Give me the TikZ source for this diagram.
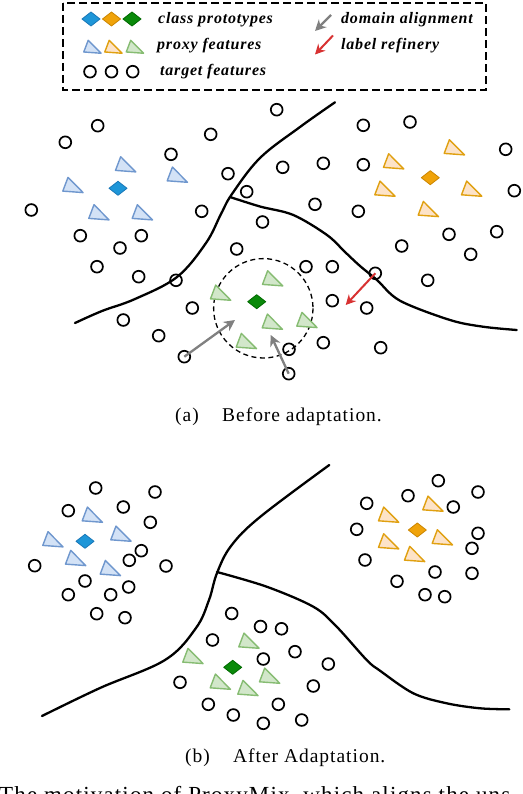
\documentclass[tikz,border=0pt]{standalone}
\usepackage{fontspec}
\setmainfont{Liberation Serif}
\newfontfamily\legfont[LetterSpace=5]{Liberation Serif}
\newfontfamily\capfont[LetterSpace=5]{Liberation Serif}
\usetikzlibrary{arrows.meta}
\definecolor{bdia}{HTML}{1E96D8}
\definecolor{bdiad}{HTML}{1A78B8}
\definecolor{btrif}{HTML}{D3E2F6}
\definecolor{btrid}{HTML}{6F97CE}
\definecolor{odia}{HTML}{F0A30A}
\definecolor{odiad}{HTML}{CC8600}
\definecolor{otrif}{HTML}{FDE3C8}
\definecolor{otrid}{HTML}{E0A010}
\definecolor{gdia}{HTML}{0A8A0A}
\definecolor{gdiad}{HTML}{006A00}
\definecolor{gtrif}{HTML}{D2E7CA}
\definecolor{gtrid}{HTML}{86BC72}
\definecolor{arrowgray}{HTML}{808080}
\definecolor{arrowred}{HTML}{D83232}
\tikzset{
  tri/.pic={\path[pic actions] (-3.3,-9.6) -- (-8.5,4.1) -- (11.8,5.6) -- cycle;},
  dia/.pic={\path[pic actions] (0,-7) -- (9,0) -- (0,7) -- (-9,0) -- cycle;},
  tf/.style={circle, draw=black, line width=1.7pt, minimum size=11.8pt, inner sep=0pt},
  boundary/.style={line width=2.3pt, line cap=round, line join=round},
  btri/.style={draw=btrid, fill=btrif, line width=1.4pt, line join=round},
  otri/.style={draw=otrid, fill=otrif, line width=1.4pt, line join=round},
  gtri/.style={draw=gtrid, fill=gtrif, line width=1.4pt, line join=round},
  bdiam/.style={draw=bdiad, fill=bdia, line width=0.8pt, line join=round},
  odiam/.style={draw=odiad, fill=odia, line width=0.8pt, line join=round},
  gdiam/.style={draw=gdiad, fill=gdia, line width=0.8pt, line join=round},
  grayarrow/.style={draw=arrowgray, line width=2.3pt, -{Stealth[length=11pt,width=11pt]}},
  redarrow/.style={draw=arrowred, line width=2pt, -{Stealth[length=10pt,width=10pt]}},
  legtext/.style={anchor=west, inner sep=0pt, font=\legfont\fontsize{16}{18}\selectfont\bfseries\itshape},
  captext/.style={anchor=base west, inner sep=0pt, font=\capfont\fontsize{19.5}{22}\selectfont},
  figtext/.style={anchor=base west, inner sep=0pt, font=\capfont\fontsize{23}{26}\selectfont},
  legbox/.style={line width=1.8pt, dash pattern=on 8pt off 4pt},
  regionring/.style={line width=1.3pt, dash pattern=on 5pt off 3.5pt}
}
\begin{document}
\begin{tikzpicture}[x=1pt,y=-1pt]
\useasboundingbox (0,0) rectangle (522,794);
\fill[white] (0,0) rectangle (522,794);

% ---------- legend ----------
\draw[legbox] (63,3) rectangle (486,90);
\pic[bdiam] at (91,19) {dia};
\pic[odiam] at (111.5,19) {dia};
\pic[gdiam] at (132,19) {dia};
\pic[btri, scale=0.85] at (91,48.5) {tri};
\pic[otri, scale=0.85] at (112,48.5) {tri};
\pic[gtri, scale=0.85] at (133.5,48.5) {tri};
\node[tf] (l1) at (90,71.7) {};
\node[tf] (l2) at (111.5,71.7) {};
\node[tf] (l3) at (132.7,71.7) {};
\node[legtext] (t1) at (158,20) {class prototypes};
\node[legtext] (t2) at (157,46) {proxy features};
\node[legtext] (t3) at (160,72) {target features};
\node[legtext] (t4) at (341,20) {domain alignment};
\node[legtext] (t5) at (341,46) {label refinery};
\coordinate (la1) at (331,15);
\coordinate (la2) at (315,31);
\coordinate (lb1) at (333,35.5);
\coordinate (lb2) at (315,54.5);
\draw[grayarrow] (la1) -- (la2);
\draw[redarrow] (lb1) -- (lb2);

% ---------- panel (a) ----------
\draw[boundary] plot[smooth, tension=0.6] coordinates {(75,323) (102,311) (135,299) (177,277) (206,243) (221,214) (232,194) (260,158) (300,127) (335,102.3)};
\draw[boundary] plot[smooth, tension=0.55] coordinates {(230,197) (260,206.5) (293.3,215) (327,235) (345,252) (360,266) (377,280) (400,300.7) (450,320) (483,326.7) (516.7,330)};
\draw[regionring] (263.3,308.3) circle (49.7);

\foreach \x/\y [count=\i] in {97.7/125.7, 65.3/142.3, 210.7/134.3, 171/154.3, 228/173.7, 246.7/191.7, 31.3/210, 201.7/211.3, 262.5/222, 80.3/235.7, 141.3/235.7, 120/248, 236.7/249, 97/266.7, 138.7/276.7, 176/280.3,
276.7/109.7, 363.3/125.3, 410/122, 505.7/149.3, 282.7/167.3, 323.3/163.3, 363.3/164.7, 514.3/190.7, 315/204.3, 358.3/211.3, 449/234.3, 496.7/231.7, 401.7/246, 470.7/254.3, 306/266.7, 332.3/266.7, 427.7/280.3,
192.3/308, 123.3/320, 332.3/300.7, 366.7/308, 158.7/335.7, 289/349.3, 323.3/342.7, 380.7/347.7}
  \node[tf] (a\i) at (\x,\y) {};
\node[tf] (r1) at (375.3,273.3) {};
\node[tf] (g1) at (184.3,356.7) {};
\node[tf] (g2) at (288.7,373.7) {};

\foreach \x/\y in {124/166.3, 175.7/176.7, 71.3/187, 97.3/214.3, 140.7/214.3}
  \pic[btri] at (\x,\y) {tri};
\pic[bdiam] at (118,188.3) {dia};
\foreach \x/\y in {452.7/149.3, 392/163.3, 383.3/190.7, 470/190.7, 426.7/211}
  \pic[otri] at (\x,\y) {tri};
\pic[odiam] at (430.3,177.7) {dia};
\foreach \x/\y in {271/280.3, 219/294.7, 270.7/323.7, 305.3/322, 244.7/343}
  \pic[gtri] at (\x,\y) {tri};
\pic[gdiam] at (256.7,301.7) {dia};

\coordinate (ga1) at (235,320);
\coordinate (ga2) at (270.7,335);
\coordinate (ra1) at (345.7,305);
\draw[grayarrow] (g1.center) -- (ga1);
\draw[grayarrow] (g2.center) -- (ga2);
\draw[redarrow] (r1.center) -- (ra1);

\node[captext] (capa1) at (175,421) {(a)};
\node[captext] (capa2) at (222,421) {Before adaptation.};

% ---------- panel (b) ----------
\draw[boundary] plot[smooth, tension=0.6] coordinates {(42,716) (100,688) (165,660) (196,628) (209,600) (217,573) (231,546) (260,517) (329.3,465)};
\draw[boundary] plot[smooth, tension=0.55] coordinates {(217,572) (266.7,586.7) (313.3,606.7) (336,626) (366.7,660) (380,670.7) (413.3,693.3) (446.7,703.3) (480,708.3) (509.3,709.3)};

\foreach \x/\y [count=\i] in {95.7/488, 155/492, 68.3/510.7, 123.3/507, 150.3/522.3, 141.3/550.7, 129.3/560.3, 34.7/565.7, 166/566, 85/581, 128.7/587, 68.3/594.7, 110.7/594.7, 96.7/613.7, 125/617.7,
438.3/480.7, 478/492, 408/495.7, 366.7/503.3, 453.3/507, 356.7/529.3, 478/533.3, 472/548.3, 365/560, 435/572, 472/573.3, 397/581.3, 425/594.7, 444.7/596.7,
231.7/613.5, 260.5/626.5, 281.5/628.8, 212.5/640, 295/651.7, 263.3/659, 328.3/664, 180/682.3, 313.3/686, 208.3/704.3, 278.3/704.3, 233.3/715, 263.3/723.3, 301.7/720}
  \node[tf] (b\i) at (\x,\y) {};

\foreach \x/\y in {90.7/516.7, 51.3/541.3, 119.3/535.7, 74/560, 108.7/570}
  \pic[btri] at (\x,\y) {tri};
\pic[bdiam] at (85,541.3) {dia};
\foreach \x/\y in {431.3/505.7, 387/516.7, 440.7/539.3, 387/543.3, 413/556}
  \pic[otri] at (\x,\y) {tri};
\pic[odiam] at (417.3,530) {dia};
\foreach \x/\y in {247.3/642.7, 191.3/658, 268/677.7, 218.7/683.7, 246.3/690}
  \pic[gtri] at (\x,\y) {tri};
\pic[gdiam] at (232.7,667.3) {dia};

\node[captext] (capb1) at (185,762.5) {(b)};
\node[captext] (capb2) at (233,762.5) {After Adaptation.};

\node[figtext] (capfig) at (-1,802) {The motivation of ProxyMix, which aligns the uns};
\end{tikzpicture}
\end{document}
